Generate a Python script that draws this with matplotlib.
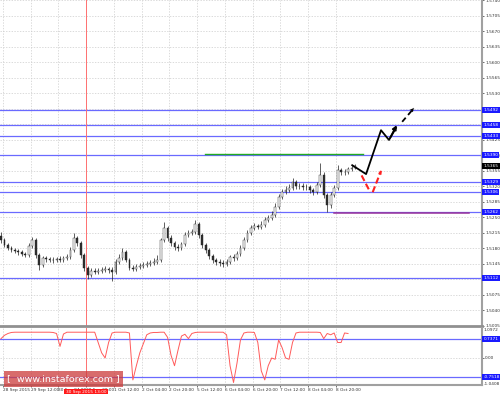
import numpy as np
import matplotlib
matplotlib.use("Agg")
import matplotlib.pyplot as plt
from matplotlib.transforms import blended_transform_factory

# H2 candles, 28 Sep - 8 Oct 2015
first_open = 1.5207
closes = [1.5198, 1.5187, 1.5180, 1.5175, 1.5173, 1.5171, 1.5166, 1.5164, 1.5185, 1.5198,
          1.5164, 1.5142, 1.5157, 1.5155, 1.5153, 1.5153, 1.5155, 1.5153, 1.5157, 1.5160,
          1.5175, 1.5203, 1.5191, 1.5164, 1.5135, 1.5119, 1.5128, 1.5126, 1.5128, 1.5130,
          1.5133, 1.5130, 1.5126, 1.5148, 1.5157, 1.5171, 1.5153, 1.5135, 1.5133, 1.5137,
          1.5139, 1.5142, 1.5144, 1.5146, 1.5148, 1.5153, 1.5198, 1.5225, 1.5203, 1.5191,
          1.5182, 1.5180, 1.5189, 1.5209, 1.5214, 1.5216, 1.5234, 1.5209, 1.5187, 1.5175,
          1.5162, 1.5153, 1.5148, 1.5146, 1.5144, 1.5148, 1.5160, 1.5157, 1.5166, 1.5180,
          1.5198, 1.5214, 1.5225, 1.5230, 1.5227, 1.5232, 1.5243, 1.5248, 1.5255, 1.5273,
          1.5295, 1.5306, 1.5311, 1.5315, 1.5329, 1.5320, 1.5320, 1.5318, 1.5318, 1.5311,
          1.5306, 1.5322, 1.5345, 1.5300, 1.5277, 1.5300, 1.5315, 1.5356, 1.5352, 1.5352,
          1.5358, 1.5361, 1.5365]
highs = [1.5216, 1.5203, 1.5191, 1.5185, 1.5180, 1.5178, 1.5175, 1.5171, 1.5191, 1.5205,
         1.5203, 1.5169, 1.5162, 1.5162, 1.5160, 1.5160, 1.5160, 1.5162, 1.5162, 1.5166,
         1.5182, 1.5214, 1.5207, 1.5196, 1.5169, 1.5139, 1.5135, 1.5135, 1.5135, 1.5137,
         1.5139, 1.5137, 1.5137, 1.5155, 1.5166, 1.5180, 1.5175, 1.5157, 1.5142, 1.5144,
         1.5146, 1.5148, 1.5151, 1.5153, 1.5157, 1.5164, 1.5203, 1.5239, 1.5230, 1.5209,
         1.5196, 1.5189, 1.5194, 1.5216, 1.5221, 1.5223, 1.5243, 1.5239, 1.5214, 1.5191,
         1.5180, 1.5166, 1.5157, 1.5155, 1.5153, 1.5155, 1.5164, 1.5166, 1.5173, 1.5187,
         1.5205, 1.5221, 1.5232, 1.5236, 1.5234, 1.5241, 1.5250, 1.5255, 1.5264, 1.5282,
         1.5302, 1.5313, 1.5320, 1.5325, 1.5338, 1.5334, 1.5327, 1.5327, 1.5325, 1.5322,
         1.5315, 1.5329, 1.5372, 1.5352, 1.5304, 1.5306, 1.5322, 1.5367, 1.5361, 1.5358,
         1.5363, 1.5367, 1.5370]
lows = [1.5191, 1.5182, 1.5175, 1.5171, 1.5169, 1.5164, 1.5162, 1.5160, 1.5160, 1.5180,
        1.5157, 1.5130, 1.5137, 1.5148, 1.5148, 1.5146, 1.5148, 1.5148, 1.5148, 1.5153,
        1.5155, 1.5171, 1.5185, 1.5157, 1.5128, 1.5110, 1.5115, 1.5121, 1.5121, 1.5124,
        1.5126, 1.5124, 1.5105, 1.5121, 1.5144, 1.5153, 1.5148, 1.5130, 1.5128, 1.5128,
        1.5133, 1.5135, 1.5137, 1.5139, 1.5142, 1.5144, 1.5148, 1.5194, 1.5196, 1.5185,
        1.5175, 1.5173, 1.5175, 1.5185, 1.5205, 1.5209, 1.5212, 1.5203, 1.5180, 1.5169,
        1.5155, 1.5146, 1.5142, 1.5139, 1.5137, 1.5139, 1.5144, 1.5151, 1.5153, 1.5162,
        1.5175, 1.5194, 1.5209, 1.5221, 1.5223, 1.5223, 1.5227, 1.5239, 1.5243, 1.5250,
        1.5268, 1.5291, 1.5302, 1.5306, 1.5311, 1.5313, 1.5313, 1.5311, 1.5311, 1.5304,
        1.5300, 1.5302, 1.5318, 1.5293, 1.5261, 1.5270, 1.5295, 1.5311, 1.5345, 1.5345,
        1.5347, 1.5354, 1.5358]

# oscillator in the lower window
osc = [0.75, 0.88, 0.95, 0.99, 1.0, 1.0, 1.0, 1.0, 1.0, 1.0,
       1.0, 1.0, 1.0, 1.0, 1.0, 0.99, 0.95, 0.45, 0.93, 1.0,
       1.0, 1.0, 1.0, 1.0, 1.0, 1.0, 1.0, 1.0, 0.6, 0.2,
       0.0, 0.6, 0.97, 1.0, 1.0, 1.0, 1.0, 0.97, -0.85, -0.3,
       0.2, 0.55, 0.9, 0.97, 0.99, 0.99, 1.0, 1.0, 0.8, 0.1,
       -0.3, 0.3, 0.85, 0.92, 0.75, 0.95, 0.99, 1.0, 1.0, 1.0,
       1.0, 1.0, 1.0, 1.0, 1.0, 0.9, -0.3, -0.95, -0.2, 0.7,
       0.97, 1.0, 1.0, 0.99, 0.6, -0.5, -0.85, -0.3, 0.0, -0.05,
       0.7, 0.4, 0.0, -0.05, 0.6, 0.97, 1.0, 1.0, 1.0, 1.0,
       1.0, 1.0, 0.99, 0.75, 0.95, 0.9, 0.97, 0.6, 0.6, 0.97,
       0.95]

levels = [1.5492, 1.5458, 1.5433, 1.5390, 1.5329, 1.5306, 1.5262, 1.5112]
current_price = 1.5365
price_ticks = [round(1.5005 + 0.0035 * i, 4) for i in range(22)]
osc_levels = [0.7371, -0.7518]

date_labels = ["28 Sep 2015", "29 Sep 12:00", "30 Sep 04:00", "30 Sep 20:00",
               "1 Oct 12:00", "2 Oct 04:00", "2 Oct 20:00", "5 Oct 12:00",
               "6 Oct 04:00", "6 Oct 20:00", "7 Oct 12:00", "8 Oct 04:00", "8 Oct 20:00"]
date_pos = [0.5 + 8 * i for i in range(len(date_labels))]

vline_pos = 24.5
vline_label = "30 Sep 2015 13:00"

# drawn forecast
green_line = ([58.8, 104.3], [1.5392, 1.5392])
purple_line = ([96.0, 134.9], [1.5259, 1.5259])
black_path = ([101.2, 105.2, 109.5, 111.8, 113.8], [1.5367, 1.5347, 1.5446, 1.5424, 1.5451])
black_dash = ([115.6, 119.0], [1.5465, 1.5496])
red_down = ([103.9, 106.4], [1.5344, 1.5306])
red_up = ([107.1, 109.5], [1.5306, 1.5354])

opens = [first_open] + closes[:-1]
n = len(closes)
idx = np.arange(n)

fig = plt.figure(figsize=(5, 3.94), dpi=100)
ax = fig.add_axes([0, 1 - 326 / 394, 482 / 500, 326 / 394])
axi = fig.add_axes([0, 1 - 385 / 394, 482 / 500, 57 / 394])

xmin, xmax = -0.29, 138.6
grid_kw = dict(color="#cccccc", lw=0.5, ls=(0, (2, 2)))
lab_fs = 3.1

# ---- main price window
ax.set_xlim(xmin, xmax)
ax.set_ylim(1.5004, 1.5740)
ax.set_yticks(price_ticks)
ax.set_yticklabels([f"{p:.4f}" for p in price_ticks])
ax.yaxis.tick_right()
ax.tick_params(axis="y", labelsize=lab_fs, length=1.5, width=0.5, pad=0.8, colors="#333333")
ax.set_xticks(date_pos)
ax.tick_params(axis="x", length=0, labelbottom=False)
ax.grid(True, **grid_kw)
for s in ["left", "top"]:
    ax.spines[s].set_visible(False)
ax.spines["right"].set_color("#a0a0a0")
ax.spines["right"].set_linewidth(1.5)
ax.spines["bottom"].set_color("#909090")
ax.spines["bottom"].set_linewidth(2)

for lv in levels:
    ax.axhline(lv, color="#6a6aff", lw=0.9, zorder=2)

ax.axvline(vline_pos, color="#ff7070", lw=0.7, zorder=2)

ax.vlines(idx, lows, highs, color="#202020", lw=0.5, zorder=3)
for i in range(n):
    o, c = opens[i], closes[i]
    bull = c >= o
    ax.bar(i, max(abs(c - o), 0.00004), bottom=min(o, c), width=0.5,
           color="white" if bull else "#303030", edgecolor="#202020", lw=0.3, zorder=4)

ax.plot(*green_line, color="#22aa22", lw=1.0, zorder=5)
ax.plot(*purple_line, color="#993399", lw=1.1, zorder=5)
ax.plot(*black_path, color="black", lw=1.3, zorder=6)
ax.annotate("", xy=(black_path[0][-1] + 0.6, black_path[1][-1] + 0.0012),
            xytext=(black_path[0][-2], black_path[1][-2]),
            arrowprops=dict(arrowstyle="-|>", color="black", lw=1.3, mutation_scale=6))
ax.plot(*black_dash, color="black", lw=1.3, ls=(0, (3, 2)), zorder=6)
ax.annotate("", xy=(black_dash[0][1] + 0.5, black_dash[1][1] + 0.0005),
            xytext=(black_dash[0][0], black_dash[1][0]),
            arrowprops=dict(arrowstyle="-|>", color="black", lw=0, mutation_scale=7))
ax.plot(*red_down, color="#ff2020", lw=1.5, ls=(0, (3, 1.5)), zorder=6)
ax.plot(*red_up, color="#ff2020", lw=1.5, ls=(0, (3, 1.5)), zorder=6)
ax.annotate("", xy=(red_up[0][1] + 0.35, red_up[1][1] + 0.0007),
            xytext=(red_up[0][0], red_up[1][0]),
            arrowprops=dict(arrowstyle="-|>", color="#ff2020", lw=0, mutation_scale=7))

tr = blended_transform_factory(ax.transAxes, ax.transData)
for lv in levels:
    ax.text(1.003, lv, f"{lv:.4f}", transform=tr, fontsize=lab_fs, color="white",
            va="center", ha="left", clip_on=False, zorder=10,
            bbox=dict(boxstyle="square,pad=0.25", fc="#1a1aff", ec="none"))
ax.text(1.003, current_price, f"{current_price:.4f}", transform=tr, fontsize=lab_fs,
        color="white", va="center", ha="left", clip_on=False, zorder=10,
        bbox=dict(boxstyle="square,pad=0.25", fc="black", ec="none"))

# ---- oscillator window
axi.set_xlim(xmin, xmax)
axi.set_ylim(-1.047, 1.163)
axi.plot(idx[:len(osc)], osc, color="#ff5a5a", lw=0.7, zorder=4)
for lv in osc_levels:
    axi.axhline(lv, color="#6a6aff", lw=0.9, zorder=2)
axi.axvline(vline_pos, color="#ff7070", lw=0.7, zorder=2)
axi.set_yticks([0.0])
axi.set_yticklabels(["0.00"])
axi.yaxis.tick_right()
axi.tick_params(axis="y", labelsize=lab_fs, length=1.5, width=0.5, pad=0.8, colors="#333333")
axi.set_xticks(date_pos)
axi.set_xticklabels(date_labels, ha="left")
axi.tick_params(axis="x", labelsize=lab_fs, length=1.5, width=0.5, pad=1, colors="#333333")
axi.grid(True, **grid_kw)
for s in ["left", "top"]:
    axi.spines[s].set_visible(False)
for s in ["right", "bottom"]:
    axi.spines[s].set_color("#a0a0a0")
    axi.spines[s].set_linewidth(1.5)

tri = blended_transform_factory(axi.transAxes, axi.transData)
axi.text(1.003, 1.0972, "1.0972", transform=tri, fontsize=lab_fs, color="#333333",
         va="center", ha="left", clip_on=False)
axi.text(1.003, -1.02, "-1.0408", transform=tri, fontsize=lab_fs, color="#333333",
         va="center", ha="left", clip_on=False)
for lv in osc_levels:
    axi.text(1.003, lv, f"{lv:.4f}", transform=tri, fontsize=lab_fs, color="white",
             va="center", ha="left", clip_on=False, zorder=10,
             bbox=dict(boxstyle="square,pad=0.25", fc="#1a1aff", ec="none"))

trx = blended_transform_factory(axi.transData, axi.transAxes)
axi.text(vline_pos, -0.12, vline_label, transform=trx, fontsize=lab_fs, color="white",
         va="center", ha="center", clip_on=False, zorder=10,
         bbox=dict(boxstyle="square,pad=0.3", fc="#ff1a1a", ec="none"))

fig.text(7 / 500, 1 - 379 / 394, "[  www.instaforex.com ]", fontsize=6.8, color="white",
         va="center", ha="left", zorder=20,
         bbox=dict(boxstyle="square,pad=0.35", fc="#cc3b3b", ec="none", alpha=0.75))

fig.savefig("out.png", dpi=100, facecolor="white")
